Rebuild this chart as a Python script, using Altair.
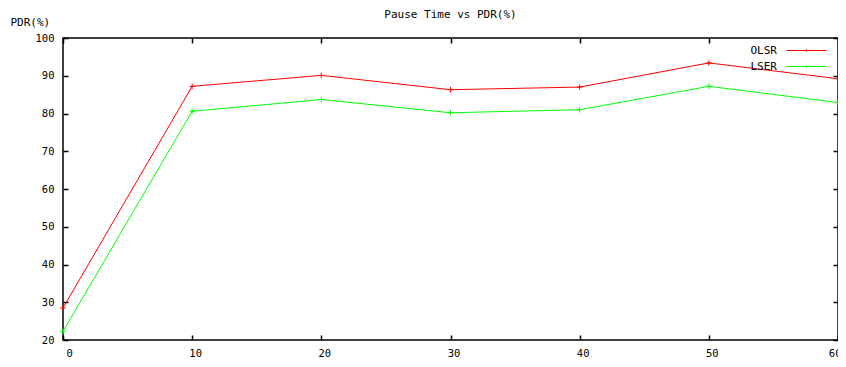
import altair as alt
import pandas as pd

# ---- data ----
pause_time = [0, 10, 20, 30, 40, 50, 60]
olsr_pdr = [28.5, 87.2, 90.1, 86.3, 87.0, 93.4, 89.2]
lser_pdr = [22.3, 80.6, 83.7, 80.2, 81.0, 87.2, 82.9]
series_names = ["OLSR", "LSER"]
series_colors = ["#ff0000", "#00ff00"]
x_ticks = [0, 10, 20, 30, 40, 50, 60]
y_ticks = [20, 30, 40, 50, 60, 70, 80, 90, 100]

rows = []
for name, vals in zip(series_names, [olsr_pdr, lser_pdr]):
    for t, v in zip(pause_time, vals):
        rows.append({"pause": t, "pdr": v, "series": name})
df = pd.DataFrame(rows)

FONT = "DejaVu Sans Mono"
FS = 11
TFS = 10.5
x_scale = alt.Scale(domain=[0, 60], nice=False, zero=False)
y_scale = alt.Scale(domain=[20, 100], nice=False, zero=False)

plus_path = "M-1,0H1M0,-1V1"
legend_path = "M3,0H11M7,-0.25V0.25"

color = alt.Color(
    "series:N",
    scale=alt.Scale(domain=series_names, range=series_colors),
    sort=series_names,
    legend=alt.Legend(
        title=None,
        orient="none",
        legendX=703,
        legendY=7,
        padding=0,
        symbolType=legend_path,
        symbolSize=100,
        symbolStrokeWidth=1,
        symbolFillColor="transparent",
        labelAlign="right",
        labelOffset=0,
        labelFont=FONT,
        labelFontSize=FS,
        labelColor="black",
        rowPadding=4,
        direction="vertical",
    ),
)

base = alt.Chart(df)

main = base.mark_line(
    strokeWidth=1,
    point=alt.OverlayMarkDef(shape=plus_path, filled=False, size=30, strokeWidth=1),
).encode(
    x=alt.X(
        "pause:Q",
        scale=x_scale,
        axis=alt.Axis(
            orient="bottom", values=x_ticks, tickSize=0, ticks=False, domain=False,
            grid=False, labelPadding=8, labelOffset=3, title=None,
            labelFont=FONT, labelFontSize=TFS, labelColor="black",
        ),
    ),
    y=alt.Y(
        "pdr:Q",
        scale=y_scale,
        axis=alt.Axis(
            orient="left", values=y_ticks, tickSize=0, ticks=False, domain=False,
            grid=False, labelPadding=9, title="PDR(%)", titleAngle=0,
            titleAlign="left", titleBaseline="middle", titleX=-53, titleY=-16,
            titleFont=FONT, titleFontSize=FS, titleFontWeight="normal", titleColor="black",
            labelFont=FONT, labelFontSize=TFS, labelColor="black",
        ),
    ),
    color=color,
)


def tick_layer(xorient, yorient):
    return base.mark_line(opacity=0).encode(
        x=alt.X(
            "pause:Q",
            scale=x_scale,
            axis=alt.Axis(
                orient=xorient, values=x_ticks, labels=False, domain=False, grid=False,
                ticks=True, tickSize=5, offset=-5, tickColor="black", tickWidth=1.5,
                title=None,
            ),
        ),
        y=alt.Y(
            "pdr:Q",
            scale=y_scale,
            axis=alt.Axis(
                orient=yorient, values=y_ticks, labels=False, domain=False, grid=False,
                ticks=True, tickSize=5, offset=-5, tickColor="black", tickWidth=1.5,
                title=None,
            ),
        ),
        detail="series:N",
    )


chart = (
    alt.layer(main, tick_layer("bottom", "left"), tick_layer("top", "right"))
    .resolve_axis(x="independent", y="independent")
    .properties(
        width=775,
        height=302,
        padding={"left": 55, "top": 30, "right": 0, "bottom": 19},
        autosize=alt.AutoSizeParams(type="none"),
        title=alt.TitleParams(
            "Pause Time vs PDR(%)", font=FONT, fontSize=FS, fontWeight="normal",
            color="black", anchor="middle", offset=0, dy=4,
        ),
        background="white",
    )
    .configure_view(stroke="black", strokeWidth=1.5)
)

chart.save("out.html", embed_options={"renderer": "svg", "actions": False})
